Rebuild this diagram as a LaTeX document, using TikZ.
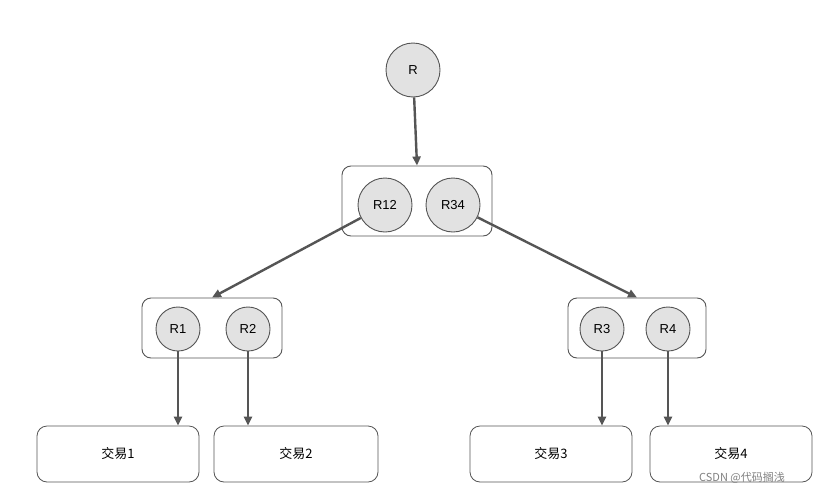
\documentclass[tikz,border=0pt]{standalone}
\usepackage{fontspec}
\setmainfont{Liberation Sans}
\newfontfamily\cjk{Noto Sans CJK SC}
\usetikzlibrary{arrows.meta}
\definecolor{ln}{HTML}{555555}
\definecolor{cf}{HTML}{E2E2E2}
\tikzset{
  circ/.style={circle,draw=ln,fill=cf,line width=0.9pt,inner sep=0pt,font=\fontsize{13}{13}\selectfont},
  grp/.style={draw=ln,rounded corners=9pt,line width=0.9pt,fill=white},
  leaf/.style={draw=ln,rounded corners=10pt,line width=0.8pt,minimum width=162pt,minimum height=56pt,font=\cjk\fontsize{13}{13}\selectfont},
  arr/.style={-{Triangle[length=9pt,width=8pt]},draw=ln,line width=2.4pt}
}
\begin{document}
\begin{tikzpicture}[x=1pt,y=-1pt]
\useasboundingbox[fill=white] (0,0) rectangle (832,498);
\node[circ,minimum size=54pt] (R) at (413,70) {R};
\node[grp,minimum width=150pt,minimum height=70pt] (T) at (417,201) {};
\node[circ,minimum size=54pt] (R12) at (385,205) {R12};
\node[circ,minimum size=54pt] (R34) at (453,205) {R34};
\node[grp,minimum width=140pt,minimum height=60pt] (L) at (212,328) {};
\node[grp,minimum width=138pt,minimum height=60pt] (M) at (637,328) {};
\node[circ,minimum size=44pt] (R1) at (178,329) {R1};
\node[circ,minimum size=44pt] (R2) at (248,329) {R2};
\node[circ,minimum size=44pt] (R3) at (602,329) {R3};
\node[circ,minimum size=44pt] (R4) at (668,329) {R4};
\node[leaf] (B1) at (118,454) {交易1};
\node[leaf,minimum width=164pt] (B2) at (296,454) {交易2};
\node[leaf] (B3) at (551,454) {交易3};
\node[leaf] (B4) at (731,454) {交易4};
\draw[arr] (R) -- (T.north);
\draw[arr] (R12) -- (L.north);
\draw[arr] (R34) -- (M.north);
\foreach \a/\b in {R1/B1,R2/B2,R3/B3,R4/B4}
  \draw[arr] (\a) -- (\b.north -| \a);
\node[font=\cjk\fontsize{11}{11}\selectfont,text=gray] (wm) at (742,478) {CSDN @代码搁浅};
\end{tikzpicture}
\end{document}
